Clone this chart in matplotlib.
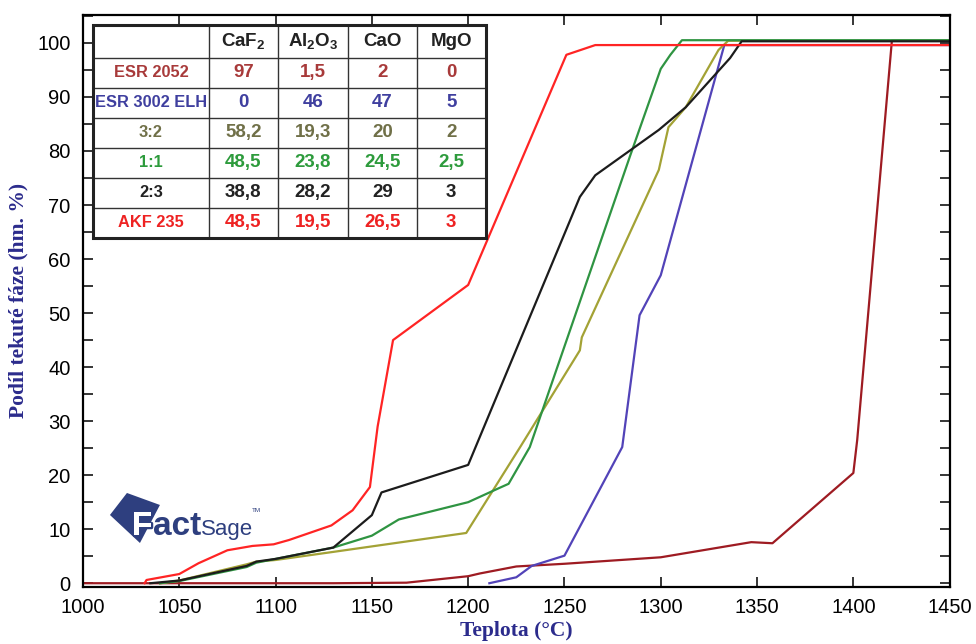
import matplotlib
matplotlib.use('Agg')
import matplotlib.pyplot as plt
import matplotlib.patheffects as pe
from matplotlib.patches import Polygon, Rectangle
from matplotlib.ticker import MultipleLocator

plt.rcParams['font.family'] = ['Liberation Sans', 'DejaVu Sans']
plt.rcParams['mathtext.default'] = 'regular'

# teplota (°C) a podíl tekuté fáze (hm. %)
esr2052_t = [1000, 1130, 1168, 1200, 1206, 1225, 1250, 1300, 1347, 1358, 1400, 1402, 1420, 1450]
esr2052_v = [0, 0, 0.1, 1.3, 1.8, 3.1, 3.6, 4.8, 7.6, 7.4, 20.4, 26.5, 100.4, 100.4]

esr3002_t = [1211, 1225, 1233, 1250, 1280, 1289, 1300, 1333, 1450]
esr3002_v = [0, 1.1, 3.2, 5.1, 25.2, 49.6, 57.0, 99.6, 99.6]

s32_t = [1040, 1050, 1085, 1090, 1100, 1130, 1199, 1227, 1258, 1259, 1299, 1304, 1313, 1330, 1335, 1450]
s32_v = [0, 0.5, 3.5, 4.0, 4.3, 5.8, 9.3, 25.2, 43.1, 45.5, 76.5, 84.4, 88.1, 98.7, 100.4, 100.4]

s11_t = [1040, 1050, 1085, 1090, 1100, 1130, 1150, 1164, 1200, 1216, 1221, 1232, 1284, 1300, 1305, 1311, 1450]
s11_v = [0, 0.4, 3.0, 3.8, 4.5, 6.6, 8.8, 11.8, 15.0, 17.6, 18.4, 25.2, 79.0, 95.2, 97.8, 100.5, 100.5]

s23_t = [1035, 1050, 1085, 1090, 1100, 1130, 1150, 1155, 1200, 1258, 1266, 1299, 1313, 1336, 1342, 1450]
s23_v = [0, 0.5, 3.2, 4.0, 4.5, 6.6, 12.6, 16.8, 21.9, 71.5, 75.5, 83.9, 88.1, 97.2, 100.3, 100.3]

akf235_t = [1032, 1033, 1050, 1060, 1075, 1088, 1099, 1107, 1129, 1140, 1149, 1153, 1161, 1200, 1251, 1266, 1450]
akf235_v = [0, 0.6, 1.7, 3.7, 6.1, 6.9, 7.2, 8.0, 10.7, 13.5, 17.8, 29.0, 45.0, 55.2, 97.8, 99.6, 99.6]

# složení strusek (hm. %)
slags = ['ESR 2052', 'ESR 3002 ELH', '3:2', '1:1', '2:3', 'AKF 235']
components = ['CaF$_2$', 'Al$_2$O$_3$', 'CaO', 'MgO']
caf2 = ['97', '0', '58,2', '48,5', '38,8', '48,5']
al2o3 = ['1,5', '46', '19,3', '23,8', '28,2', '19,5']
cao = ['2', '47', '20', '24,5', '29', '26,5']
mgo = ['0', '5', '2', '2,5', '3', '3']

line_colors = ['#9e1b22', '#5243b8', '#a3a235', '#2f9442', '#1c1c1c', '#ff2424']
text_colors = ['#a83a3a', '#3f3f9f', '#707048', '#2d9b3c', '#222222', '#ee2222']

fig = plt.figure(figsize=(9.76, 6.44), dpi=100)
ax = fig.add_axes([0.085, 0.0885, 0.888, 0.8885])

curves = [(esr2052_t, esr2052_v), (esr3002_t, esr3002_v), (s32_t, s32_v),
          (s11_t, s11_v), (s23_t, s23_v), (akf235_t, akf235_v)]
for (t, v), c in zip(curves, line_colors):
    ax.plot(t, v, color=c, lw=1.6)

ax.set_xlim(1000, 1450)
ax.set_ylim(-0.7, 105.2)
ax.xaxis.set_major_locator(MultipleLocator(50))
ax.yaxis.set_major_locator(MultipleLocator(10))
ax.yaxis.set_minor_locator(MultipleLocator(5))
ax.tick_params(which='both', direction='in', top=True, right=True, length=7, width=1.1)
ax.tick_params(axis='y', labelsize=14.5, pad=9)
ax.tick_params(axis='x', labelsize=14.5, pad=8)
ax.set_yticks(range(0, 101, 10))
for s in ax.spines.values():
    s.set_linewidth(1.6)

lab_font = dict(family='Liberation Serif', fontweight='bold', fontsize=15.5, color='#2b2b8c')
ax.set_xlabel('Teplota (°C)', labelpad=3, **lab_font)
ax.set_ylabel('Podíl tekuté fáze (hm. %)', labelpad=6, **lab_font)

# tabulka složení
tx0, tx1 = 0.0115, 0.4648
ty0, ty1 = 0.610, 0.9825
col_w = [116, 69, 70, 69, 69]
row_h = [33] + [30] * len(slags)
xs = [tx0]
for w in col_w:
    xs.append(xs[-1] + (tx1 - tx0) * w / sum(col_w))
ys = [ty1]
for h in row_h:
    ys.append(ys[-1] - (ty1 - ty0) * h / sum(row_h))

ax.add_patch(Rectangle((tx0, ty0), tx1 - tx0, ty1 - ty0, transform=ax.transAxes,
                       facecolor='white', edgecolor='none', zorder=3))
for x in xs[1:-1]:
    ax.plot([x, x], [ty0, ty1], transform=ax.transAxes, color='#333333', lw=1.0, zorder=4)
for y in ys[1:-1]:
    ax.plot([tx0, tx1], [y, y], transform=ax.transAxes, color='#333333', lw=1.0, zorder=4)
ax.add_patch(Rectangle((tx0, ty0), tx1 - tx0, ty1 - ty0, transform=ax.transAxes,
                       facecolor='none', edgecolor='#222222', lw=2.2, zorder=5))

tab_font = dict(family='Liberation Sans', fontweight='bold',
                ha='center', va='center', transform=ax.transAxes, zorder=6)
for j, name in enumerate(components):
    ax.text((xs[j + 1] + xs[j + 2]) / 2, (ys[0] + ys[1]) / 2, name, color='#222222',
            fontsize=13.5, **tab_font)
for i, name in enumerate(slags):
    yc = (ys[i + 1] + ys[i + 2]) / 2
    ax.text((xs[0] + xs[1]) / 2, yc, name, color=text_colors[i], fontsize=11.8, **tab_font)
    for j, val in enumerate([caf2[i], al2o3[i], cao[i], mgo[i]]):
        ax.text((xs[j + 1] + xs[j + 2]) / 2, yc, val, color=text_colors[i],
                fontsize=13.5, **tab_font)

# logo FactSage
navy = '#2e3f7f'

def px(x, y):
    return ((x - 83) / 867, (587 - y) / 572)

ax.add_patch(Polygon([px(110, 515), px(127, 493), px(160, 505), px(140, 543)],
                     closed=True, transform=ax.transAxes, facecolor=navy,
                     edgecolor='none', zorder=3))
logo = dict(transform=ax.transAxes, va='baseline', family='Liberation Sans', zorder=4)
ax.text(*px(132, 535), 'F', fontsize=24, fontweight='bold', color='white',
        path_effects=[pe.withStroke(linewidth=2.5, foreground=navy)], **logo)
ax.text(*px(153, 535), 'act', fontsize=24, fontweight='bold', color=navy, **logo)
ax.text(*px(201, 535), 'Sage', fontsize=16, color=navy, **logo)
ax.text(*px(252, 512), 'TM', fontsize=4.5, color=navy, **logo)

fig.savefig('out.png', dpi=100)
